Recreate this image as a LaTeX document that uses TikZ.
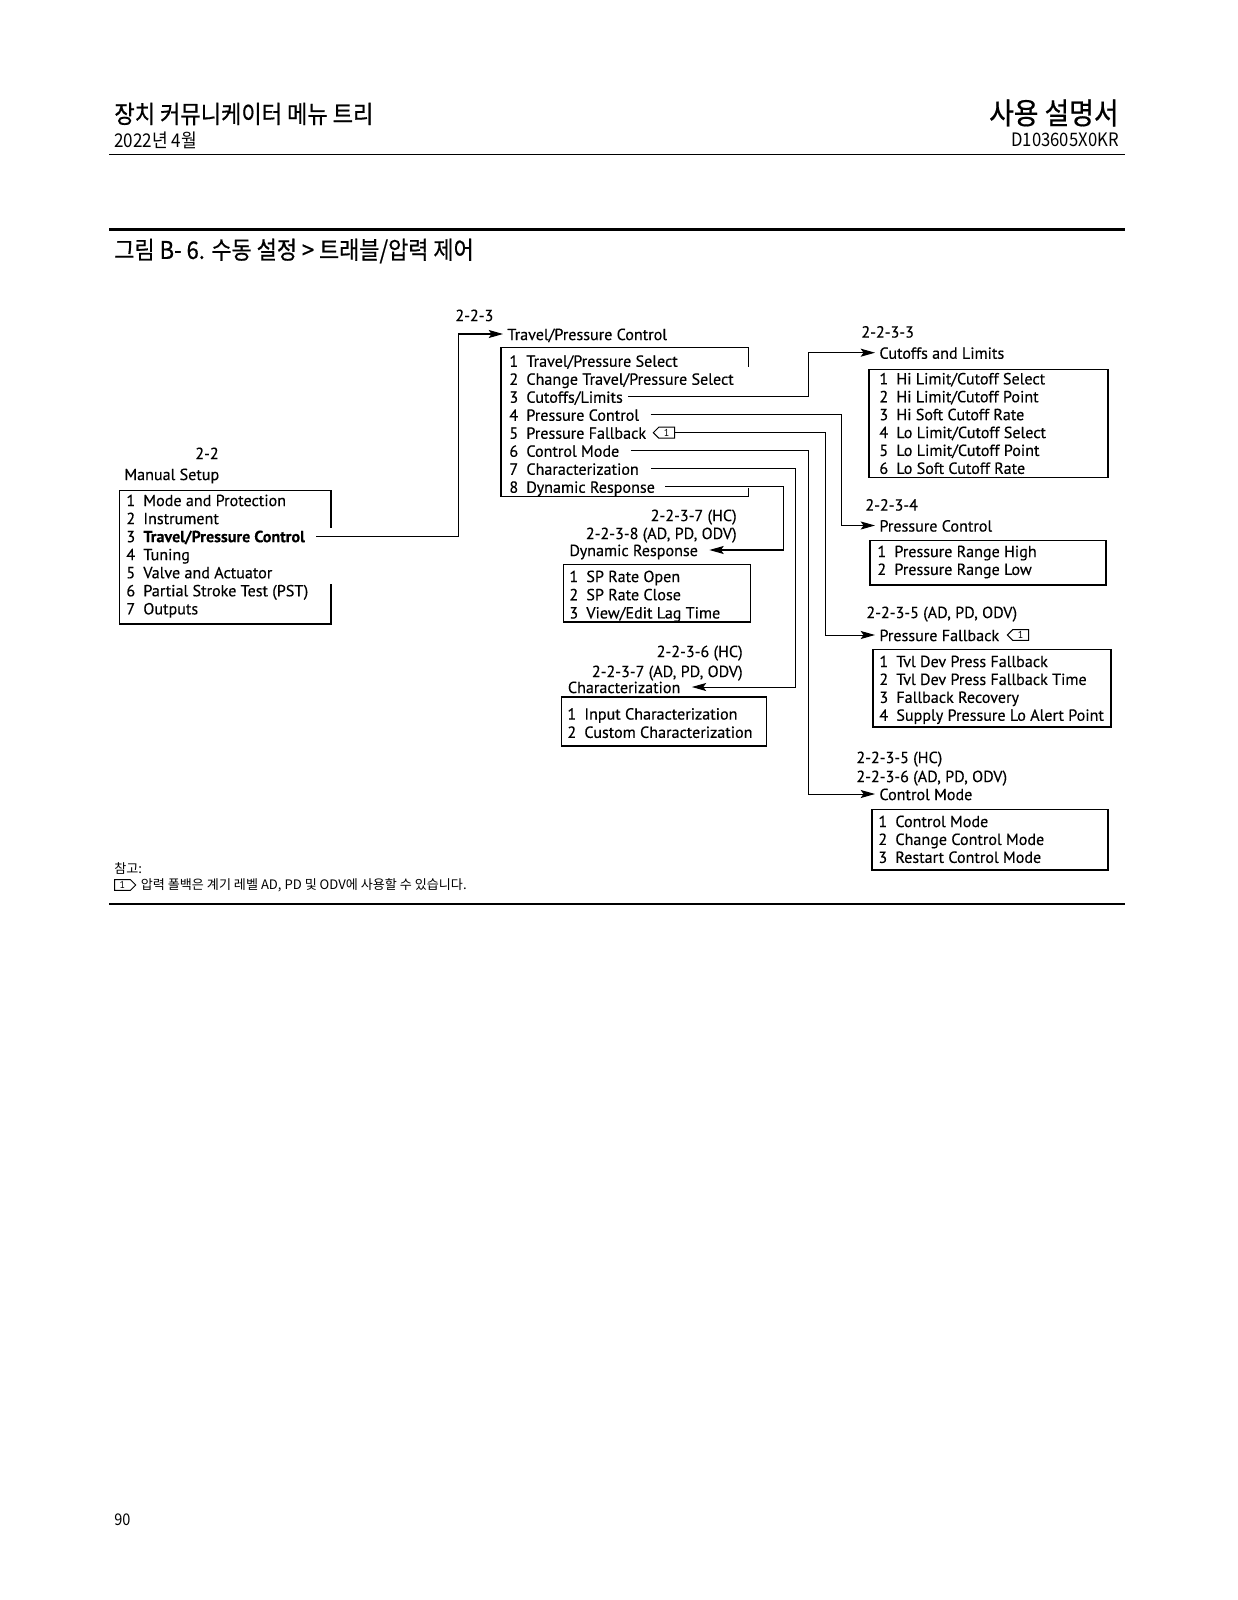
\documentclass[tikz,border=0pt]{standalone}
\usepackage{fontspec}
\setmainfont{PT Sans}
\newfontfamily\dgf[FakeBold=0.3]{PT Sans}
\newfontfamily\krfont[FakeStretch=0.9,FakeBold=0.6]{Noto Sans CJK KR}
\newfontfamily\krlight[FakeStretch=0.9]{Noto Sans CJK KR}
\newfontfamily\krnote{Noto Sans CJK KR}
\usetikzlibrary{arrows.meta,positioning,shapes.symbols}
\newcommand\dgfont{\dgf\fontsize{8}{9}\selectfont}
\newcommand\nr[1]{\makebox[8.4bp][l]{#1}}
\tikzset{
  ln/.style={line width=0.5pt},
  ar/.style={ln,-{Stealth[length=2.5mm,width=1.4mm,inset=0.5mm]}},
  box/.style={draw,line width=0.6pt},
  txt/.style={anchor=west,inner sep=0pt,text height=6bp,text depth=0pt,font=\dgfont},
  ttl/.style={txt,inner xsep=2bp},
  tag/.style={draw,ln,signal,signal to=west,inner sep=0.4bp,minimum height=5.4bp,minimum width=10.5bp,font=\fontsize{5}{5}\selectfont},
  hd/.style={anchor=west,inner sep=0pt},
  rule/.style={line width=1pt}
}

\begin{document}
\begin{tikzpicture}[x=0.4947bp,y=-0.4947bp]
\fill[white] (0,0) rectangle (1237,1600);
\node[hd,font=\krfont\fontsize{12.2}{13}\selectfont] (hd1) at (114,114) {장치 커뮤니케이터 메뉴 트리};
\node[hd,font=\krlight\fontsize{9.4}{10}\selectfont] (hd2) at (114,140) {2022년 4월};
\node[hd,anchor=east,font=\krfont\fontsize{14.8}{16}\selectfont] (hd3) at (1119,113) {사용 설명서};
\node[hd,anchor=east,font=\krlight\fontsize{9.2}{10}\selectfont] (hd4) at (1119,140) {D103605X0KR};
\draw[ln] (109,155) -- (1125,155);
\draw[rule] (109,229.5) -- (1125,229.5);
\node[hd,font=\krfont\fontsize{12.1}{13}\selectfont] (fig) at (114,251) {그림 B- 6. 수동 설정 > 트래블/압력 제어};

\node[txt,anchor=center] (msl) at (207,453) {2-2};
\node[txt] (ms) at (124,474) {Manual Setup};
\draw[box] (331,527.7) |- (119.3,490.7) |- (331,624) -- (331,584);
\foreach \t [count=\i] in {Mode and Protection,Instrument,\textbf{Travel/Pressure Control},Tuning,Valve and Actuator,Partial Stroke Test (PST),Outputs}
  \node[txt] (ms\i) at (126,{500+18.05*(\i-1)}) {\nr{\i}\t};

\node[txt] (tpcl) at (455,315) {2-2-3};
\node[ttl] (tpc) at (503,334) {Travel/Pressure Control};
\draw[box] (748.3,366.7) |- (501,347.7) |- (748.3,496.7) -- (748.3,488.3);
\foreach \t [count=\i] in {Travel/Pressure Select,Change Travel/Pressure Select,Cutoffs/Limits,Pressure Control,Pressure Fallback,Control Mode,Characterization,Dynamic Response}
  \node[txt] (tpc\i) at (509,{360.7+18*(\i-1)}) {\nr{\i}\t};
\node[tag,right=3bp of tpc5] (tg1) {1};

\node[txt] (cutl) at (861,331.5) {2-2-3-3};
\node[ttl] (cut) at (875,352.7) {Cutoffs and Limits};
\draw[box] (869,369.3) rectangle (1108,477.7);
\foreach \t [count=\i] in {Hi Limit/Cutoff Select,Hi Limit/Cutoff Point,Hi Soft Cutoff Rate,Lo Limit/Cutoff Select,Lo Limit/Cutoff Point,Lo Soft Cutoff Rate}
  \node[txt] (cut\i) at (879,{378.3+17.9*(\i-1)}) {\nr{\i}\t};

\node[txt] (pcl) at (865,504.5) {2-2-3-4};
\node[ttl] (pc) at (875,525.5) {Pressure Control};
\draw[box] (870,540.5) rectangle (1106,585);
\foreach \t [count=\i] in {Pressure Range High,Pressure Range Low}
  \node[txt] (pc\i) at (877,{551+17.9*(\i-1)}) {\nr{\i}\t};

\node[txt] (pfl) at (866,612) {2-2-3-5 (AD, PD, ODV)};
\node[ttl] (pf) at (875,635) {Pressure Fallback};
\node[tag,right=1.5bp of pf] (tg2) {1};
\draw[box] (873,649.3) rectangle (1111,727);
\foreach \t [count=\i] in {Tvl Dev Press Fallback,Tvl Dev Press Fallback Time,Fallback Recovery,Supply Pressure Lo Alert Point}
  \node[txt] (pf\i) at (879,{661+17.9*(\i-1)}) {\nr{\i}\t};

\node[txt] (cml) at (856,757) {2-2-3-5 (HC)};
\node[txt] (cml2) at (856,776) {2-2-3-6 (AD, PD, ODV)};
\node[ttl] (cm) at (875,794) {Control Mode};
\draw[box] (872,809.5) rectangle (1108,870);
\foreach \t [count=\i] in {Control Mode,Change Control Mode,Restart Control Mode}
  \node[txt] (cm\i) at (878,{821+17.9*(\i-1)}) {\nr{\i}\t};

\node[txt,anchor=east] (drl) at (737,515) {2-2-3-7 (HC)};
\node[txt,anchor=east] (drl2) at (737,533) {2-2-3-8 (AD, PD, ODV)};
\node[txt] (dr) at (569,550) {Dynamic Response};
\draw[box] (563.4,564.4) rectangle (750.5,622);
\foreach \t [count=\i] in {SP Rate Open,SP Rate Close,View/Edit Lag Time}
  \node[txt] (dr\i) at (569,{576+18.2*(\i-1)}) {\nr{\i}\t};

\node[txt,anchor=east] (chl) at (743,651) {2-2-3-6 (HC)};
\node[txt,anchor=east] (chl2) at (743,671) {2-2-3-7 (AD, PD, ODV)};
\node[txt] (ch) at (567.5,687) {Characterization};
\draw[box] (561.3,697) rectangle (766.5,746);
\foreach \t [count=\i] in {Input Characterization,Custom Characterization}
  \node[txt] (ch\i) at (567,{713.5+18.3*(\i-1)}) {\nr{\i}\t};

\coordinate (c0) at (458.3,0);
\coordinate (c1) at (808.5,0);
\coordinate (c2) at (841.7,0);
\coordinate (c3) at (825,0);
\coordinate (c4) at (795,0);
\coordinate (c5) at (783.3,0);
\draw[ar] ([xshift=5.5bp]ms3.east) -| (c0 |- tpc.west) -- (tpc.west);
\draw[ar] ([xshift=2.5bp]tpc3.east) -| (c1 |- cut.west) -- (cut.west);
\draw[ar] ([xshift=5.5bp]tpc4.east) -| (c2 |- pc.west) -- (pc.west);
\draw[ar] (tg1.east) -| (c3 |- pf.west) -- (pf.west);
\draw[ar] ([xshift=5.5bp]tpc6.east) -| (c1 |- cm.west) -- (cm.west);
\draw[ar] ([xshift=6bp]tpc7.east) -| (c4 |- ch.east) -- ([xshift=5.5bp]ch.east);
\draw[ar] ([xshift=5bp]tpc8.east) -| (c5 |- dr.east) -- ([xshift=5.5bp]dr.east);

\node[hd,font=\krnote\fontsize{6.5}{7}\selectfont] (nt) at (114,868) {참고:};
\node[tag,signal to=east,anchor=west] (tg3) at (114,885) {1};
\node[hd,font=\krnote\fontsize{6.5}{7}\selectfont,right=2bp of tg3] (nt2) {압력 폴백은 계기 레벨 AD, PD 및 ODV에 사용할 수 있습니다.};
\draw[rule] (109,904) -- (1125,904);
\node[hd,font=\krlight\fontsize{8}{9}\selectfont] (pg) at (114,1520) {90};
\end{tikzpicture}
\end{document}
